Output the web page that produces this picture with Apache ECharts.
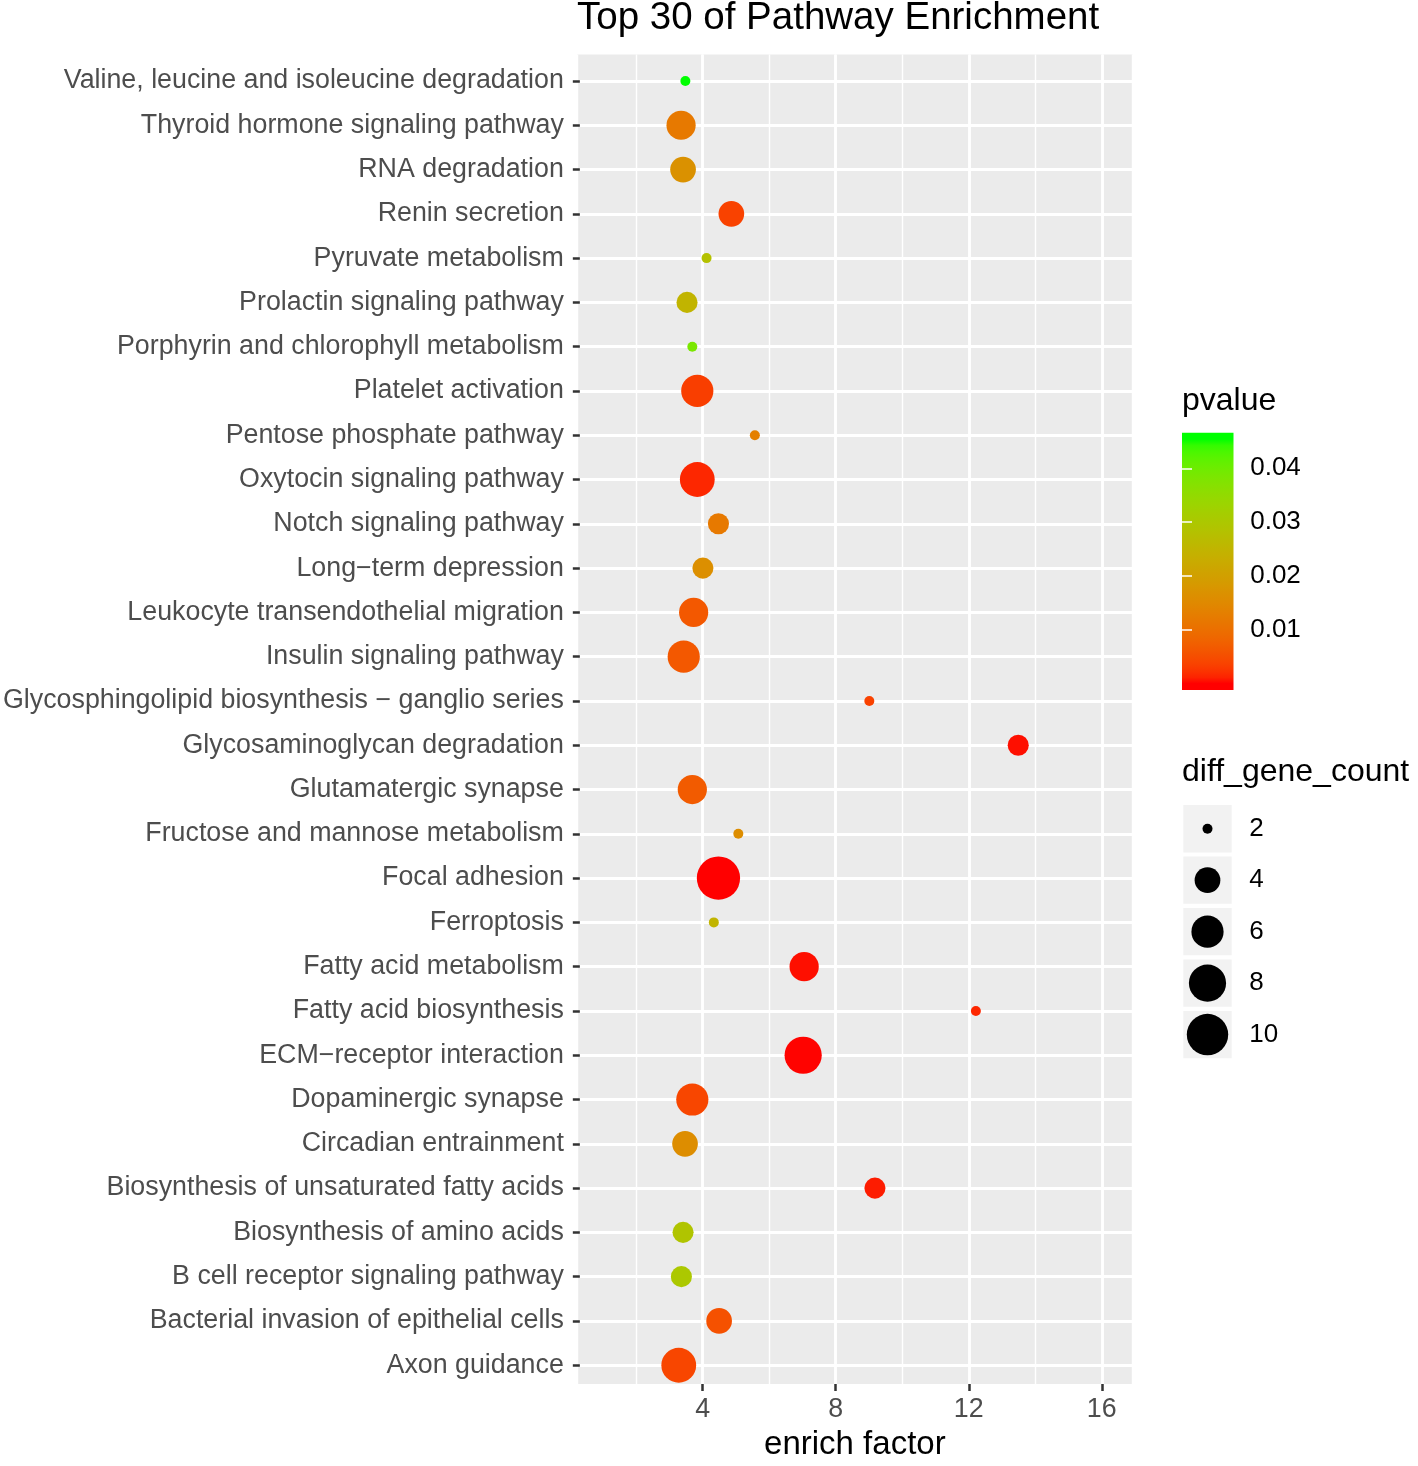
<!DOCTYPE html>
<html><head><meta charset="utf-8">
<script src="https://cdn.jsdelivr.net/npm/echarts@6/dist/echarts.min.js"></script>
<style>html,body{margin:0;padding:0;background:#fff}#chart{width:1418px;height:1466px}</style>
</head><body><div id="chart"></div>
<script>
// ---------------- DATA ----------------
const pathways = [
  'Valine, leucine and isoleucine degradation',
  'Thyroid hormone signaling pathway',
  'RNA degradation',
  'Renin secretion',
  'Pyruvate metabolism',
  'Prolactin signaling pathway',
  'Porphyrin and chlorophyll metabolism',
  'Platelet activation',
  'Pentose phosphate pathway',
  'Oxytocin signaling pathway',
  'Notch signaling pathway',
  'Long\u2212term depression',
  'Leukocyte transendothelial migration',
  'Insulin signaling pathway',
  'Glycosphingolipid biosynthesis \u2212 ganglio series',
  'Glycosaminoglycan degradation',
  'Glutamatergic synapse',
  'Fructose and mannose metabolism',
  'Focal adhesion',
  'Ferroptosis',
  'Fatty acid metabolism',
  'Fatty acid biosynthesis',
  'ECM\u2212receptor interaction',
  'Dopaminergic synapse',
  'Circadian entrainment',
  'Biosynthesis of unsaturated fatty acids',
  'Biosynthesis of amino acids',
  'B cell receptor signaling pathway',
  'Bacterial invasion of epithelial cells',
  'Axon guidance'
];
const enrichFactor = [3.41, 3.28, 3.34, 4.80, 4.05, 3.46, 3.62, 3.77, 5.51, 3.77,
                      4.41, 3.94, 3.66, 3.36, 8.97, 13.47, 3.62, 5.01, 4.41, 4.27,
                      7.00, 12.19, 6.97, 3.62, 3.40, 9.14, 3.34, 3.29, 4.43, 3.21];
const diffGeneCount = [2, 5, 4, 4, 2, 3, 2, 6, 2, 7,
                       3, 3, 5, 6, 2, 3, 5, 2, 11, 2,
                       5, 2, 8, 6, 4, 3, 3, 3, 4, 7];
const pValues = [0.0454, 0.0119, 0.0169, 0.0037, 0.0282, 0.0250, 0.0386, 0.0033, 0.0132, 0.0015,
                 0.0119, 0.0164, 0.0064, 0.0064, 0.0037, 0.0006, 0.0069, 0.0160, 0.0001, 0.0250,
                 0.0006, 0.0015, 0.0002, 0.0042, 0.0160, 0.0010, 0.0291, 0.0300, 0.0055, 0.0042];
const xTicks = [4, 8, 12, 16];
const pTicks = [0.01, 0.02, 0.03, 0.04];
const sizeBreaks = [2, 4, 6, 8, 10];

// ---------------- STYLE HELPERS ----------------
const FONT = '"Liberation Sans", Arial, Helvetica, sans-serif';
function srgbToLinear(c){c/=255;return c<=0.04045?c/12.92:Math.pow((c+0.055)/1.055,2.4);}
function linearToSrgb(c){c=c<=0.0031308?12.92*c:1.055*Math.pow(Math.max(c,0),1/2.4)-0.055;return Math.round(Math.max(0,Math.min(1,c))*255);}
const Xn=0.95047,Yn=1,Zn=1.08883;
function fLab(t){return t>216/24389?Math.cbrt(t):(24389/27*t+16)/116;}
function fInv(t){return t>6/29?t*t*t:3*(6/29)*(6/29)*(t-4/29);}
function rgbToLab(rgb){const R=srgbToLinear(rgb[0]),G=srgbToLinear(rgb[1]),B=srgbToLinear(rgb[2]);
  const X=0.4124564*R+0.3575761*G+0.1804375*B,Y=0.2126729*R+0.7151522*G+0.0721750*B,Z=0.0193339*R+0.1191920*G+0.9503041*B;
  const fx=fLab(X/Xn),fy=fLab(Y/Yn),fz=fLab(Z/Zn);return [116*fy-16,500*(fx-fy),200*(fy-fz)];}
function labToRgb(lab){const fy=(lab[0]+16)/116,fx=fy+lab[1]/500,fz=fy-lab[2]/200;
  const X=Xn*fInv(fx),Y=Yn*fInv(fy),Z=Zn*fInv(fz);
  const R=3.2404542*X-1.5371385*Y-0.4985314*Z,G=-0.9692660*X+1.8760108*Y+0.0415560*Z,B=0.0556434*X-0.2040259*Y+1.0572252*Z;
  return 'rgb('+linearToSrgb(R)+','+linearToSrgb(G)+','+linearToSrgb(B)+')';}
const labLow=rgbToLab([255,0,0]), labHigh=rgbToLab([0,255,0]);
function ramp(t){return labToRgb(labLow.map((v,i)=>v+(labHigh[i]-v)*t));}
const NSTOP=40; const rampColors=[]; for(let i=0;i<=NSTOP;i++) rampColors.push(ramp(i/NSTOP));

const pMin=Math.min(...pValues), pMax=Math.max(...pValues);
const half=(pMax-pMin)/38;
const barMin=pMin-half, barMax=pMax+half;
const stops=[{offset:0,color:rampColors[NSTOP]}];
for(let i=NSTOP;i>=0;i--){const v=pMin+(pMax-pMin)*i/NSTOP;stops.push({offset:(barMax-v)/(barMax-barMin),color:rampColors[i]});}
stops.push({offset:1,color:rampColors[0]});

function diam(v){return 10+15.7*Math.sqrt(Math.max(0,v-2)/2);}

// layout
const panel={left:577,top:54.4,width:555.7,height:1337.4};
const rowStep=panel.height/(pathways.length-1+1.2);
const dataTop=panel.top+0.6*rowStep, dataH=rowStep*(pathways.length-1);
const xMin=0.22, xMax=16.93;

const chart=echarts.init(document.getElementById('chart'),null,{renderer:'canvas'});
const option={
  animation:false,
  backgroundColor:'#ffffff',
  title:[
    {text:'Top 30 of Pathway Enrichment',left:577,top:-1,padding:0,textStyle:{fontFamily:FONT,fontSize:38.5,fontWeight:'normal',color:'#000'}},
    {text:'pvalue',left:1182,top:385,padding:0,textStyle:{fontFamily:FONT,fontSize:32,fontWeight:'normal',color:'#000'}},
    {text:'diff_gene_count',left:1182,top:756,padding:0,textStyle:{fontFamily:FONT,fontSize:32,fontWeight:'normal',color:'#000'}}
  ],
  grid:[
    {left:panel.left,top:panel.top,width:panel.width,height:panel.height,show:true,backgroundColor:'#EBEBEB',borderWidth:0},
    {left:panel.left,top:dataTop,width:panel.width,height:dataH,show:false},
    {left:1182,top:432.7,width:51.5,height:257.3,show:true,borderWidth:0,
     backgroundColor:{type:'linear',x:0,y:0,x2:0,y2:1,colorStops:stops}},
    {left:1183.3,top:803,width:48.4,height:257.3,show:false}
  ],
  xAxis:[
    {gridIndex:0,type:'value',min:xMin,max:xMax,minInterval:2,maxInterval:2,position:'top',
     axisLine:{show:false},axisTick:{show:false},axisLabel:{show:false},
     splitLine:{show:true,lineStyle:{color:'#ffffff',width:1.4}}},
    {gridIndex:0,type:'value',min:xMin,max:xMax,minInterval:4,maxInterval:4,position:'bottom',
     axisLine:{show:false},
     axisTick:{show:true,length:7,customValues:xTicks,lineStyle:{color:'#333333',width:2.5}},
     axisLabel:{customValues:xTicks,margin:12,color:'#4D4D4D',fontSize:26.8,fontFamily:FONT,
       formatter:v=>xTicks.includes(v)?String(v):''},
     splitLine:{show:true,lineStyle:{color:'#ffffff',width:2.8}},
     name:'enrich factor',nameLocation:'middle',nameGap:42,
     nameTextStyle:{fontFamily:FONT,fontSize:33,color:'#000'}},
    {gridIndex:1,type:'value',min:xMin,max:xMax,show:false},
    {gridIndex:2,type:'value',min:0,max:1,show:false},
    {gridIndex:3,type:'value',min:0,max:1,show:false}
  ],
  yAxis:[
    {gridIndex:0,type:'value',show:false},
    {gridIndex:1,type:'category',data:pathways,inverse:true,boundaryGap:false,
     axisLine:{show:false},
     axisTick:{show:true,interval:0,length:7,lineStyle:{color:'#333333',width:2.5}},
     axisLabel:{interval:0,margin:16,color:'#4D4D4D',fontSize:26.8,fontFamily:FONT},
     splitLine:{show:true,interval:0,lineStyle:{color:'#ffffff',width:2.8}}},
    {gridIndex:2,type:'value',min:barMin,max:barMax,position:'right',minInterval:0.01,maxInterval:0.01,
     axisLine:{show:false},
     axisTick:{show:true,inside:true,length:10,customValues:pTicks,lineStyle:{color:'#ffffff',width:1.5}},
     axisLabel:{customValues:pTicks,margin:16.7,color:'#000',fontSize:26,fontFamily:FONT,
       formatter:v=>pTicks.some(t=>Math.abs(t-v)<1e-9)?v.toFixed(2):''},
     splitLine:{show:false}},
    {gridIndex:2,type:'value',min:barMin,max:barMax,position:'left',minInterval:0.01,maxInterval:0.01,
     axisLine:{show:false},
     axisTick:{show:true,inside:true,length:10,customValues:pTicks,lineStyle:{color:'#ffffff',width:1.5}},
     axisLabel:{show:false},splitLine:{show:false}},
    {gridIndex:3,type:'category',data:sizeBreaks.map(String),inverse:true,position:'right',
     axisLine:{show:false},axisTick:{show:false},
     axisLabel:{interval:0,margin:17.6,color:'#000',fontSize:26,fontFamily:FONT},
     splitLine:{show:false}}
  ],
  visualMap:{type:'continuous',show:false,seriesIndex:0,dimension:3,min:pMin,max:pMax,inRange:{color:rampColors}},
  series:[
    {type:'scatter',xAxisIndex:2,yAxisIndex:1,clip:false,z:3,
     data:pathways.map((p,i)=>[enrichFactor[i],p,diffGeneCount[i],pValues[i]]),
     symbolSize:v=>diam(v[2]),itemStyle:{opacity:1}},
    {type:'scatter',xAxisIndex:4,yAxisIndex:4,silent:true,symbol:'rect',symbolSize:[48.4,47.3],
     data:sizeBreaks.map(s=>[0.5,String(s)]),itemStyle:{color:'#F2F2F2',opacity:1}},
    {type:'scatter',xAxisIndex:4,yAxisIndex:4,silent:true,z:3,
     data:sizeBreaks.map(s=>[0.5,String(s),s]),symbolSize:v=>diam(v[2]),itemStyle:{color:'#000000',opacity:1}}
  ]
};
chart.setOption(option);
</script>
</body></html>
